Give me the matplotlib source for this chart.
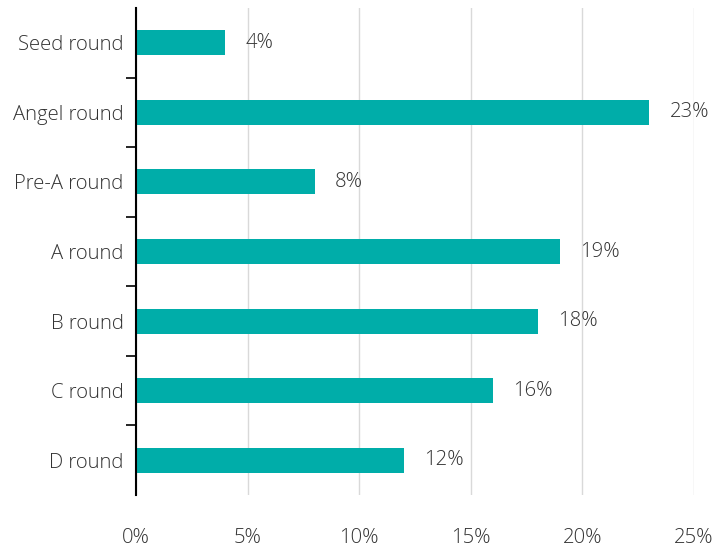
import matplotlib
matplotlib.use("Agg")
import matplotlib.pyplot as plt
from matplotlib.ticker import FixedLocator, PercentFormatter

categories = ["Seed round", "Angel round", "Pre-A round", "A round", "B round", "C round", "D round"]
values = [4, 23, 8, 19, 18, 16, 12]
x_ticks = [0, 5, 10, 15, 20, 25]

plt.rcParams['font.family'] = ['Open Sans', 'DejaVu Sans']
plt.rcParams['font.weight'] = 'light'
text_color = '#333333'
bar_color = '#00ADA9'
fs = 14.6

fig = plt.figure(figsize=(7.28, 5.49), dpi=100)
ax = fig.add_axes([136/728, 1-495/549, (694-136)/728, (495-8)/549])

y = list(range(len(categories)))
ax.barh(y, values, height=0.36, color=bar_color, zorder=3)
ax.set_ylim(len(categories)-0.5, -0.5)
ax.set_xlim(0, 25)
ax.set_yticks(y)
ax.set_yticklabels(categories)
ax.yaxis.set_minor_locator(FixedLocator([i+0.5 for i in range(len(categories)-1)]))
ax.tick_params(axis='y', which='major', length=0, pad=9, labelsize=fs, labelcolor=text_color)
ax.tick_params(axis='y', which='minor', length=7, width=1.2, color='black')
ax.set_xticks(x_ticks)
ax.xaxis.set_major_formatter(PercentFormatter(decimals=0))
ax.tick_params(axis='x', length=0, pad=24, labelsize=fs, labelcolor=text_color)
ax.grid(axis='x', color='#d9d9d9', linewidth=1, zorder=0)
for s in ['top', 'right', 'bottom']:
    ax.spines[s].set_visible(False)
ax.spines['left'].set_linewidth(1.5)
ax.spines['left'].set_zorder(4)

for yi, v in zip(y, values):
    ax.annotate(f"{v}%", xy=(v, yi), xytext=(14.5, 0), textcoords='offset points',
                va='center', ha='left', fontsize=fs, color=text_color)

fig.savefig("out.png", dpi=100)
